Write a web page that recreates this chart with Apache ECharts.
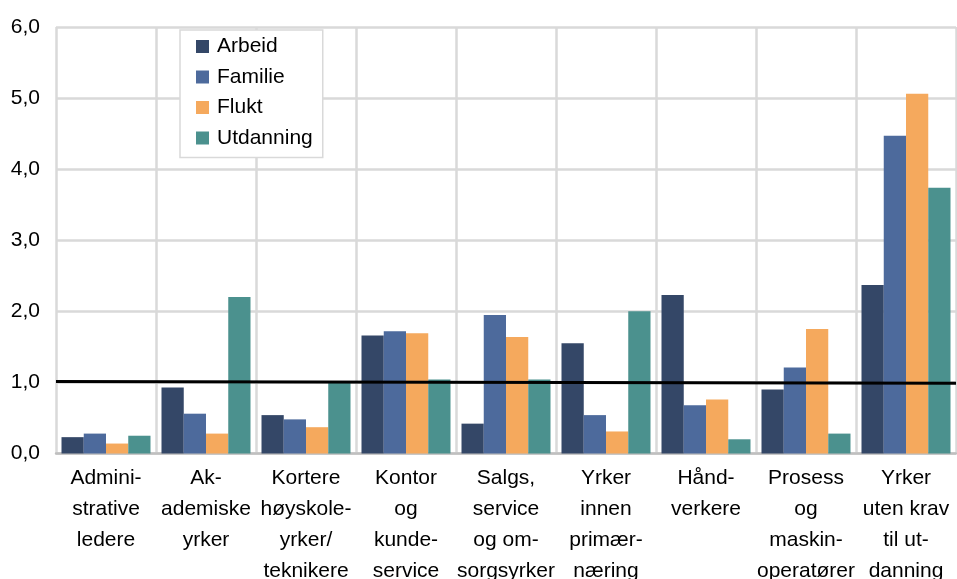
<!DOCTYPE html>
<html>
<head>
<meta charset="utf-8">
<script src="https://cdn.jsdelivr.net/npm/echarts@6/dist/echarts.min.js"></script>
<style>
  html, body { margin: 0; padding: 0; background: #fff; }
  #chart { width: 957px; height: 579px; }
</style>
</head>
<body>
<div id="chart"></div>
<script>
const categories = [
  'Admini-\nstrative\nledere',
  'Ak-\nademiske\nyrker',
  'Kortere\nhøyskole-\nyrker/\nteknikere',
  'Kontor\nog\nkunde-\nservice',
  'Salgs,\nservice\nog om-\nsorgsyrker',
  'Yrker\ninnen\nprimær-\nnæring',
  'Hånd-\nverkere',
  'Prosess\nog\nmaskin-\noperatører',
  'Yrker\nuten krav\ntil ut-\ndanning'
]
const arbeid = [0.23, 0.93, 0.54, 1.66, 0.42, 1.55, 2.23, 0.90, 2.37]
const familie = [0.28, 0.56, 0.48, 1.72, 1.95, 0.54, 0.68, 1.21, 4.47]
const flukt = [0.14, 0.28, 0.37, 1.69, 1.64, 0.31, 0.76, 1.75, 5.06]
const utdanning = [0.25, 2.20, 1.01, 1.04, 1.04, 2.00, 0.20, 0.28, 3.74]
// reference line, left end and right end
const refLine = [[0, 1.012], [1, 0.987]]

const font = 'Liberation Sans, Arial, sans-serif'
const chart = echarts.init(document.getElementById('chart'))

const barSeries = (name, data, color) => ({
  name,
  type: 'bar',
  data,
  barGap: '0%',
  barCategoryGap: '11%',
  itemStyle: { color },
  z: 2
})

chart.setOption({
  animation: false,
  textStyle: { fontFamily: font },
  grid: { left: 56, right: 1, top: 27, bottom: 125.5, containLabel: false, outerBoundsMode: 'none' },
  legend: {
    orient: 'vertical',
    left: 180,
    top: 30,
    backgroundColor: '#fff',
    borderColor: '#d9d9d9',
    borderWidth: 1.5,
    padding: [6, 10, 9, 16],
    itemWidth: 13,
    itemHeight: 13,
    itemGap: 9.5,
    icon: 'rect',
    textStyle: { fontSize: 21, color: '#000', fontFamily: font, padding: [0, 0, 0, 3] },
    data: ['Arbeid', 'Familie', 'Flukt', 'Utdanning']
  },
  xAxis: [
    {
      type: 'category',
      data: categories,
      axisLine: { show: true, lineStyle: { color: '#bfbfbf', width: 2.5 } },
      axisTick: { show: false },
      splitLine: { show: true, lineStyle: { color: '#d9d9d9', width: 2.5 } },
      axisLabel: {
        interval: 0,
        fontSize: 21,
        lineHeight: 31,
        color: '#000',
        margin: 9,
        fontFamily: font
      }
    },
    {
      type: 'value',
      min: 0,
      max: 1,
      show: false
    }
  ],
  yAxis: {
    type: 'value',
    min: 0,
    max: 6,
    interval: 1,
    axisLine: { show: false },
    axisTick: { show: false },
    splitLine: { show: true, lineStyle: { color: '#d9d9d9', width: 2.5 } },
    axisLabel: {
      fontSize: 21,
      color: '#000',
      margin: 16,
      fontFamily: font,
      formatter: v => v.toFixed(1).replace('.', ',')
    }
  },
  series: [
    barSeries('Arbeid', arbeid, '#344767'),
    barSeries('Familie', familie, '#4d6a9c'),
    barSeries('Flukt', flukt, '#f5a95d'),
    barSeries('Utdanning', utdanning, '#4b918e'),
    {
      name: 'ref',
      type: 'line',
      xAxisIndex: 1,
      data: refLine,
      symbol: 'none',
      lineStyle: { color: '#000', width: 3 },
      silent: true,
      z: 5
    }
  ]
})
</script>
</body>
</html>
